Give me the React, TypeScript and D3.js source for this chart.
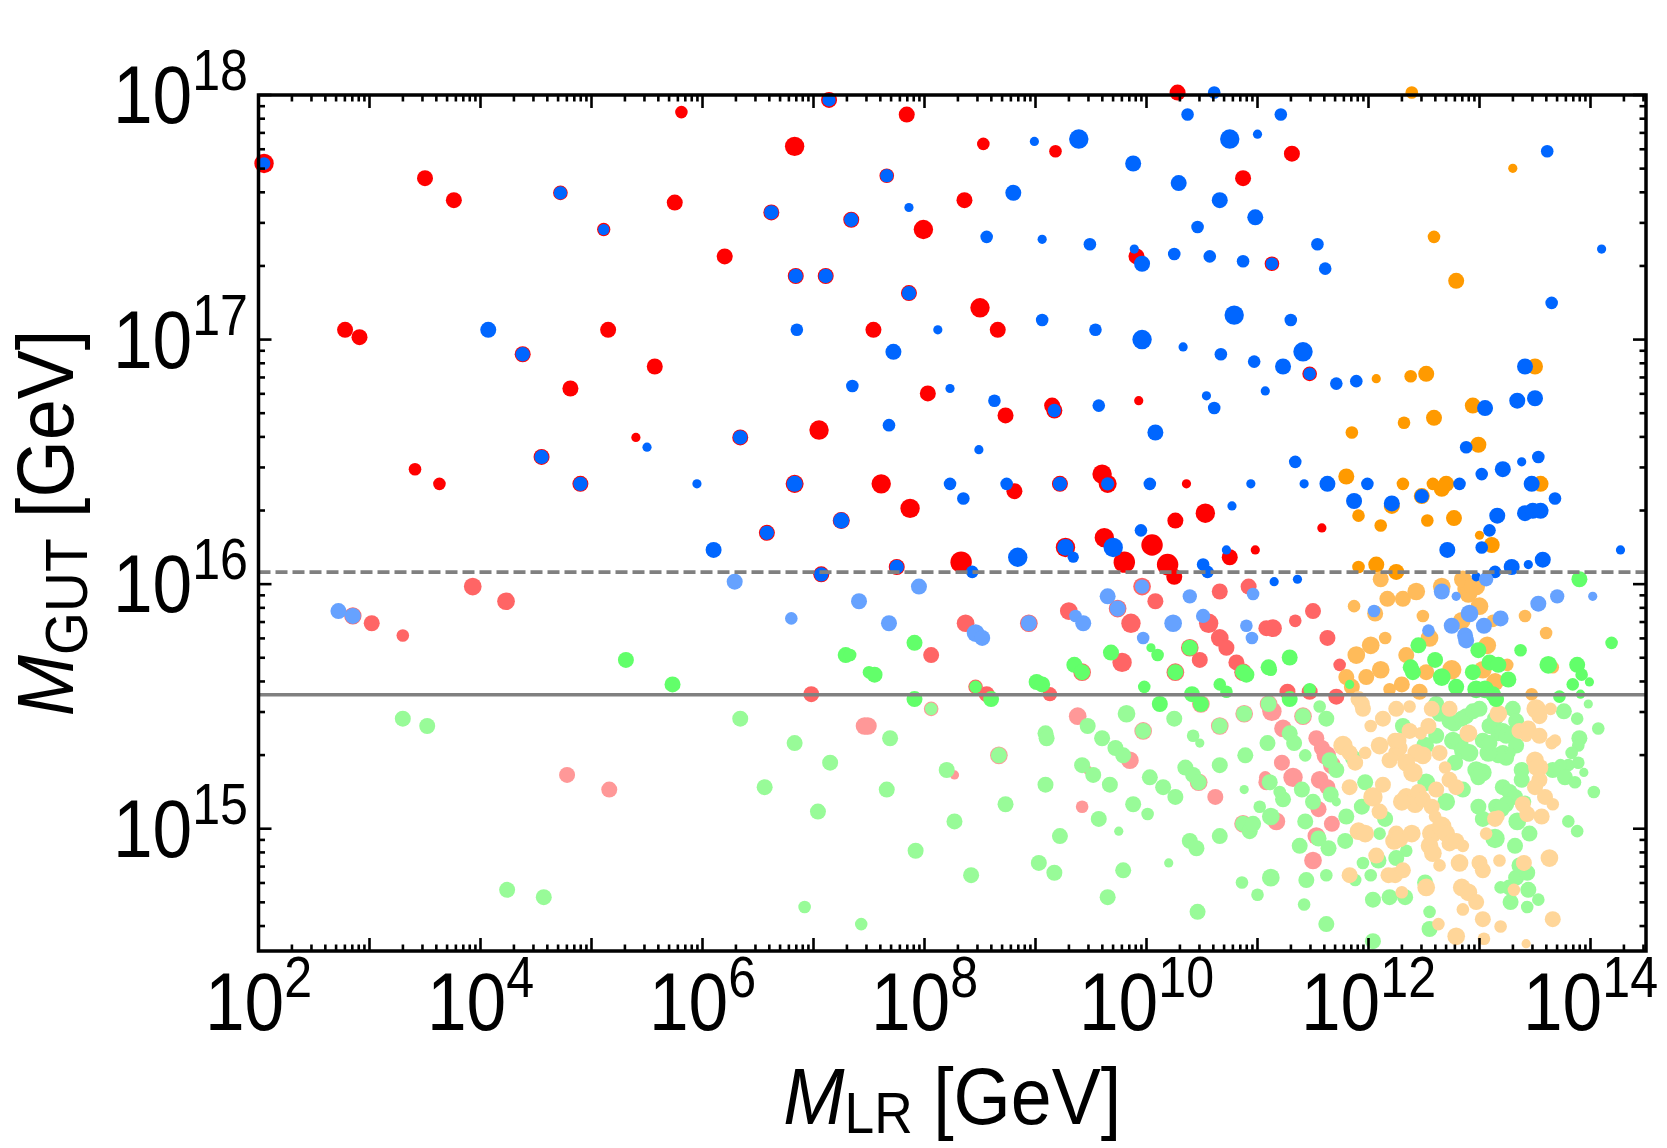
import React from "react";
import * as d3 from "d3";

// every point: [log10(M_LR / GeV), log10(M_GUT / GeV), weight]
// the weight is the third quantity of a model point and sets the marker size

const redStrong = [
  [2.05, 17.72, 4], [3.5, 17.66, 3], [3.76, 17.57, 3], [5.81, 17.93, 2], [6.83, 17.79, 4],
  [7.14, 17.98, 3], [7.84, 17.92, 3], [8.53, 17.8, 2], [9.18, 17.77, 2], [10.28, 18.01, 3],
  [10.87, 17.66, 3], [11.31, 17.76, 3], [5.75, 17.56, 3], [4.72, 17.6, 2.6], [5.11, 17.45, 2.2],
  [6.62, 17.52, 3], [7.34, 17.49, 3], [7.66, 17.67, 2.6], [7.99, 17.45, 4], [6.2, 17.34, 3],
  [8.36, 17.57, 3], [2.78, 17.04, 3], [2.91, 17.01, 3], [4.38, 16.94, 3], [5.15, 17.04, 3],
  [4.81, 16.8, 3], [5.57, 16.89, 3], [6.84, 17.26, 3], [7.11, 17.26, 3], [7.54, 17.04, 3],
  [7.86, 17.19, 3], [8.5, 17.13, 4], [8.66, 17.04, 3], [8.03, 16.78, 3], [4.55, 16.52, 3],
  [3.41, 16.47, 2], [3.63, 16.41, 2], [4.9, 16.41, 3], [5.4, 16.6, 1], [6.34, 16.6, 3],
  [7.05, 16.63, 4], [6.83, 16.41, 3.6], [7.61, 16.41, 4], [7.87, 16.31, 4], [6.58, 16.21, 3],
  [7.25, 16.26, 3.3], [7.07, 16.04, 3], [7.75, 16.07, 3], [8.33, 16.09, 4.6], [8.73, 16.69, 3],
  [8.81, 16.38, 3], [9.15, 16.73, 3], [9.17, 16.71, 3], [9.22, 16.41, 3], [9.27, 16.15, 4],
  [9.6, 16.45, 4], [9.65, 16.41, 3.6], [9.62, 16.19, 4], [9.8, 16.09, 4.6], [10.05, 16.16, 4.6],
  [10.19, 16.08, 4.6], [10.25, 16.03, 3], [9.93, 16.75, 1], [10.36, 16.41, 1], [10.26, 16.26, 3],
  [10.53, 16.29, 4], [10.75, 16.11, 3], [10.98, 16.14, 1], [11.58, 16.23, 1], [11.47, 16.86, 2.6],
  [11.13, 17.31, 2.6], [9.91, 17.34, 3],
];

const redMid = [
  [2.85, 15.87, 3.4], [3.02, 15.84, 3], [3.3, 15.79, 2], [3.93, 15.99, 3.5], [4.23, 15.93, 3.5],
  [6.98, 15.55, 3], [8.37, 15.84, 3.5], [8.94, 15.84, 3.5], [9.3, 15.89, 3.5], [9.74, 15.9, 3.5],
  [9.96, 15.99, 3.5], [10.08, 15.93, 3], [9.86, 15.84, 4], [10.66, 15.97, 3], [10.92, 15.99, 3],
  [10.56, 15.84, 4], [10.66, 15.78, 3.5], [10.72, 15.74, 3], [10.48, 15.69, 3], [10.39, 15.74, 3.5],
  [10.81, 15.68, 3], [11.08, 15.82, 3], [9.78, 15.68, 4], [9.42, 15.64, 3.5], [8.06, 15.71, 3],
  [9.13, 15.55, 2.5], [8.46, 15.58, 2.6], [8.56, 15.55, 3], [10.26, 15.64, 3.5], [10.87, 15.64, 3.5],
  [11.5, 15.89, 3], [11.34, 15.85, 2], [11.14, 15.82, 3.5], [11.63, 15.78, 3], [11.74, 15.67, 2],
  [11.27, 15.56, 3], [11.47, 15.56, 3], [11.71, 15.54, 3],
];

const redPale = [
  [4.78, 15.22, 3], [5.16, 15.16, 3], [7.46, 15.42, 3.5], [8.06, 15.49, 2.6], [7.49, 15.42, 3.5],
  [9.38, 15.46, 3.5], [9.85, 15.28, 3.5], [9.97, 15.4, 3.5], [10.66, 15.42, 3.5], [10.88, 15.47, 3.5],
  [10.47, 15.19, 3.5], [10.62, 15.13, 3], [9.42, 15.09, 2], [9.47, 15.24, 1], [8.67, 15.3, 3.5],
  [8.27, 15.22, 1], [10.87, 15.02, 3.5], [10.49, 15.51, 3.5], [11.08, 15.19, 3],
  [11.1, 15.51, 3.5], [11.13, 15.48, 4], [11.41, 15.46, 3.5], [11.23, 15.41, 3.5], [11.53, 15.37, 3],
  [11.58, 15.33, 3], [11.62, 15.3, 4], [11.67, 15.26, 3.5], [11.22, 15.27, 3], [11.32, 15.21, 4],
  [11.07, 15.21, 2], [11.56, 15.2, 3.5], [11.63, 15.17, 3], [11.55, 15.08, 3], [11.17, 15.03, 3.5],
  [11.67, 15.02, 3], [11.53, 14.97, 3.5], [11.5, 14.87, 3.5],
];

const orangeStrong = [
  [12.39, 18.01, 2], [12.59, 17.42, 2], [12.79, 17.24, 3], [13.3, 17.7, 1], [13.5, 16.89, 3],
  [12.07, 16.84, 1], [12.38, 16.85, 2], [12.52, 16.86, 3], [11.85, 16.62, 2], [12.32, 16.66, 2],
  [12.59, 16.68, 3], [12.94, 16.73, 3], [12.99, 16.57, 3], [11.8, 16.44, 3], [12.31, 16.41, 2],
  [12.58, 16.41, 2], [12.7, 16.41, 3], [12.66, 16.39, 3], [13.55, 16.41, 3], [11.91, 16.28, 2],
  [12.11, 16.24, 2], [12.21, 16.32, 3], [12.48, 16.36, 3], [12.53, 16.26, 2], [12.77, 16.27, 3],
  [13.0, 16.2, 1], [13.11, 16.16, 3], [11.91, 16.07, 2], [12.07, 16.08, 3], [12.25, 16.05, 3],
];

const orangeMid = [
  [11.87, 15.91, 2], [12.06, 15.88, 3], [12.11, 16.02, 3], [12.17, 15.94, 3], [12.31, 15.94, 3],
  [12.43, 15.97, 3.5], [12.49, 15.87, 2], [12.15, 15.78, 2], [12.55, 15.78, 3.5], [11.89, 15.71, 3.5],
  [12.02, 15.75, 3.5], [12.11, 15.65, 3.5], [11.98, 15.62, 3], [11.8, 15.62, 3], [12.34, 15.71, 3],
  [12.52, 15.64, 3], [12.75, 15.65, 4], [12.19, 15.57, 2], [12.3, 15.59, 3], [12.46, 15.56, 3],
  [11.85, 15.58, 3], [12.84, 15.85, 3.5], [12.88, 15.98, 3.5], [12.97, 15.99, 3.5], [12.9, 15.96, 3.5],
  [13.0, 15.91, 3.5], [13.07, 15.75, 3.5], [13.12, 15.85, 2], [13.03, 15.65, 3.5], [13.25, 15.67, 2],
  [13.14, 15.6, 3.5], [13.41, 15.87, 2], [13.6, 15.8, 2], [13.66, 15.66, 2], [12.66, 15.99, 3.5],
  [13.47, 15.55, 2], [12.85, 16.02, 3.5], [12.94, 15.99, 3.5],
];

const orangePale = [
  [11.77, 15.34, 4], [11.83, 15.31, 3], [11.88, 15.27, 3], [11.83, 15.17, 3], [12.04, 15.13, 4],
  [12.13, 15.18, 3], [11.97, 15.31, 2], [12.1, 15.34, 3.5], [12.19, 15.28, 3], [12.25, 15.31, 3],
  [12.28, 15.33, 3], [12.24, 15.36, 3], [12.13, 15.45, 3], [12.25, 15.49, 3], [12.37, 15.4, 3],
  [12.37, 15.5, 2], [12.02, 15.42, 2], [11.94, 15.51, 3], [11.91, 15.53, 3], [11.95, 15.49, 3],
  [12.47, 15.39, 2], [12.54, 15.42, 3], [12.57, 15.49, 3], [12.73, 15.49, 3], [12.64, 15.31, 3],
  [12.9, 15.39, 3.5], [12.69, 15.25, 2], [12.73, 15.2, 3], [12.79, 15.17, 3], [13.17, 15.47, 3.5],
  [13.36, 15.4, 3], [13.42, 15.38, 2], [13.44, 15.41, 3], [13.51, 15.49, 4], [13.54, 15.46, 3],
  [13.64, 15.49, 2], [13.54, 15.38, 3], [13.65, 15.35, 2], [13.68, 15.36, 2], [13.5, 15.28, 3.5],
  [13.54, 15.25, 3.5], [13.51, 15.25, 3], [13.54, 15.2, 3], [13.5, 15.17, 3], [13.59, 15.13, 3],
  [13.66, 15.1, 2], [13.56, 15.05, 3], [13.39, 15.1, 3], [13.43, 15.06, 3], [13.14, 15.04, 3],
  [13.17, 15.05, 2], [13.06, 14.98, 2], [12.27, 15.36, 3], [12.43, 15.31, 3.5], [12.49, 15.3, 3.5],
  [12.34, 15.27, 3.5], [12.4, 15.23, 4], [12.34, 15.13, 3.5], [12.42, 15.1, 3.5], [12.45, 15.15, 3],
  [12.49, 15.12, 3], [12.61, 15.16, 3], [12.57, 15.09, 3], [12.6, 15.05, 2], [12.3, 15.11, 3.5],
  [12.1, 15.07, 3], [11.91, 14.99, 3.5], [11.97, 14.98, 3.5], [12.25, 14.98, 3], [12.23, 14.95, 3.5],
  [12.28, 14.96, 3.5], [12.57, 14.98, 4], [12.66, 15.01, 4], [12.7, 14.98, 3.5], [12.73, 14.94, 3],
  [12.79, 14.95, 3], [12.85, 14.93, 2], [12.55, 14.93, 3.5], [12.58, 14.9, 3.5], [12.39, 14.98, 3.5],
  [12.07, 14.89, 3], [12.24, 14.81, 3], [12.31, 14.83, 3], [12.18, 14.81, 3], [11.83, 14.81, 3],
  [12.3, 14.74, 2], [12.52, 14.76, 3.5], [12.64, 14.85, 2], [12.82, 14.86, 3.5], [12.84, 14.76, 3.5],
  [12.9, 14.74, 3.5], [12.97, 14.7, 3], [12.85, 14.67, 2], [13.0, 14.86, 3], [13.03, 14.83, 3],
  [13.18, 14.87, 2], [13.03, 14.63, 3], [13.19, 14.6, 2], [12.79, 14.56, 3.5], [13.04, 14.55, 2],
  [12.63, 14.61, 2], [13.31, 14.75, 2], [13.4, 14.86, 3], [13.63, 14.88, 3.5], [13.66, 14.63, 3],
  [13.42, 14.53, 1],
];

const blueStrong = [
  [2.05, 17.72, 2], [7.14, 17.98, 2.2], [4.72, 17.6, 2.2], [5.11, 17.45, 1.6], [6.62, 17.52, 2.5],
  [7.34, 17.49, 2.5], [7.66, 17.67, 2.2], [4.38, 16.94, 2.5], [6.84, 17.26, 2.5], [7.11, 17.26, 2.5],
  [7.86, 17.19, 2.5], [4.55, 16.52, 2.5], [4.9, 16.41, 2.5], [6.34, 16.6, 2.5], [6.83, 16.41, 3],
  [6.58, 16.21, 2.5], [7.25, 16.26, 3], [7.07, 16.04, 2.5], [7.75, 16.07, 2.5], [9.17, 16.71, 2.2],
  [9.22, 16.41, 2.5], [9.27, 16.15, 3.2], [9.34, 16.11, 1.6], [9.65, 16.41, 2.2], [11.47, 16.86, 2],
  [11.13, 17.31, 2],
  [4.07, 17.04, 3], [5.5, 16.56, 1], [5.95, 16.41, 1], [6.1, 16.14, 3], [6.85, 17.04, 2],
  [7.35, 16.81, 2], [7.72, 16.95, 3], [7.68, 16.65, 2], [7.86, 17.54, 1], [8.12, 17.04, 1],
  [8.23, 16.8, 1], [8.56, 17.42, 2], [8.8, 17.6, 3], [8.99, 17.81, 1], [9.06, 17.41, 1],
  [9.39, 17.82, 4], [9.49, 17.39, 2], [9.06, 17.08, 2], [9.54, 17.04, 2], [9.96, 17.0, 4],
  [10.33, 16.97, 1], [10.67, 16.94, 2], [10.79, 17.1, 4], [11.3, 17.08, 2], [10.97, 16.91, 2],
  [11.23, 16.89, 3], [11.41, 16.95, 4], [11.71, 16.82, 2], [11.89, 16.83, 2], [8.63, 16.75, 2],
  [9.57, 16.73, 2], [10.08, 16.62, 3], [10.54, 16.77, 1], [10.61, 16.72, 2], [11.07, 16.79, 1],
  [8.49, 16.55, 1], [11.34, 16.5, 2], [8.23, 16.41, 2], [8.35, 16.35, 2], [8.74, 16.41, 2],
  [10.03, 16.41, 2], [10.94, 16.41, 1], [11.42, 16.41, 1], [11.63, 16.41, 3], [11.99, 16.41, 2],
  [12.82, 16.41, 2], [13.47, 16.41, 3], [13.68, 16.35, 2], [10.77, 16.32, 1], [9.95, 16.22, 2],
  [9.7, 16.15, 4], [8.84, 16.11, 4], [8.43, 16.05, 2], [10.51, 16.08, 2], [10.55, 16.05, 2],
  [10.72, 16.14, 1], [11.87, 16.34, 3], [12.21, 16.33, 3], [12.48, 16.36, 2.5], [13.02, 16.45, 2],
  [13.21, 16.47, 3], [13.38, 16.5, 1], [13.53, 16.52, 2], [12.88, 16.56, 2], [13.05, 16.72, 3],
  [13.34, 16.75, 3], [13.5, 16.76, 3], [13.41, 16.89, 3], [13.65, 17.15, 2], [13.61, 17.77, 2],
  [14.1, 17.37, 1], [14.27, 16.14, 1], [12.71, 16.14, 3], [13.02, 16.15, 2], [13.09, 16.22, 2],
  [13.16, 16.28, 3], [13.41, 16.29, 3], [13.48, 16.3, 3], [13.55, 16.3, 3], [12.97, 16.03, 1],
  [13.14, 16.05, 2], [13.29, 16.07, 3], [13.44, 16.08, 1], [13.57, 16.1, 3], [11.36, 16.02, 1],
  [11.15, 16.01, 1], [10.61, 18.01, 2], [10.37, 17.92, 2], [11.21, 17.92, 2], [10.75, 17.82, 4],
  [11.0, 17.84, 1], [9.88, 17.72, 3], [10.29, 17.64, 3], [10.66, 17.57, 3], [10.98, 17.5, 3],
  [10.46, 17.46, 2], [11.54, 17.39, 2], [9.89, 17.37, 1], [9.96, 17.31, 3], [10.25, 17.35, 2],
  [10.57, 17.34, 2], [10.87, 17.32, 2], [11.61, 17.29, 2],
];

const blueMid = [
  [2.72, 15.89, 3], [2.85, 15.87, 3], [6.29, 16.01, 3], [6.8, 15.86, 2], [7.41, 15.93, 3],
  [7.95, 15.99, 3], [7.68, 15.84, 3], [8.46, 15.8, 3.5], [8.52, 15.78, 3], [8.94, 15.84, 3],
  [9.36, 15.87, 2], [9.43, 15.84, 3], [9.65, 15.95, 3], [9.74, 15.9, 3], [9.96, 15.99, 2.5],
  [9.97, 15.78, 2], [10.39, 15.95, 2.5], [10.96, 15.96, 2], [10.24, 15.84, 3.5], [10.51, 15.87, 2.5],
  [10.9, 15.83, 2], [10.95, 15.78, 2], [12.05, 15.89, 2], [12.66, 15.97, 3], [12.54, 15.81, 2],
  [12.79, 15.95, 1], [12.75, 15.83, 3], [12.87, 15.79, 3], [12.88, 15.77, 3], [12.91, 15.88, 3.5],
  [13.04, 15.83, 3], [13.06, 16.02, 2.5], [13.19, 15.86, 3], [13.53, 15.92, 3], [13.7, 15.95, 2.5],
  [14.02, 15.95, 1],
];

const greenMid = [
  [5.31, 15.69, 3], [5.73, 15.59, 3], [7.29, 15.71, 3], [7.5, 15.64, 2], [10.39, 15.74, 3],
  [9.68, 15.72, 3], [10.1, 15.71, 2], [10.04, 15.74, 1], [9.35, 15.67, 3], [9.42, 15.64, 3],
  [7.91, 15.76, 3], [7.55, 15.63, 3], [7.33, 15.71, 2], [9.01, 15.6, 3], [9.06, 15.59, 3],
  [8.46, 15.58, 2], [8.6, 15.53, 3], [10.26, 15.64, 3], [9.98, 15.58, 2], [10.87, 15.64, 3],
  [10.9, 15.63, 3], [10.66, 15.59, 2], [10.72, 15.56, 2], [10.41, 15.55, 3], [10.12, 15.51, 3],
  [10.49, 15.51, 3], [7.91, 15.53, 3], [11.1, 15.66, 3], [11.12, 15.65, 2], [11.29, 15.7, 3],
  [11.29, 15.53, 3], [11.47, 15.57, 2], [11.83, 15.59, 1], [12.45, 15.75, 3], [12.38, 15.66, 3],
  [12.4, 15.64, 3], [12.6, 15.69, 3], [12.66, 15.62, 3.5], [12.79, 15.58, 3], [12.99, 15.73, 3],
  [12.94, 15.64, 3], [13.09, 15.68, 3], [13.17, 15.67, 3], [13.26, 15.61, 3], [12.97, 15.57, 3.5],
  [13.05, 15.57, 3.5], [13.12, 15.55, 3], [13.15, 15.53, 3], [13.37, 15.73, 2], [13.62, 15.67, 3.5],
  [13.9, 16.02, 3], [14.19, 15.76, 2], [13.88, 15.67, 3], [13.92, 15.63, 2], [13.84, 15.59, 2],
  [13.99, 15.6, 1], [13.72, 15.54, 2], [13.91, 15.55, 1],
];

const greenPale = [
  [3.3, 15.45, 3], [3.52, 15.42, 3], [4.24, 14.75, 3], [4.57, 14.72, 3], [6.34, 15.45, 3],
  [6.83, 15.35, 3], [7.15, 15.27, 3], [6.56, 15.17, 3], [7.04, 15.07, 3], [6.92, 14.68, 2],
  [7.43, 14.61, 2], [8.06, 15.49, 2], [7.69, 15.37, 3], [9.47, 15.42, 3], [9.6, 15.37, 3],
  [9.72, 15.33, 3], [9.79, 15.3, 3], [9.82, 15.47, 3.5], [9.97, 15.4, 3], [10.25, 15.45, 3],
  [10.42, 15.38, 2], [10.48, 15.35, 1], [10.66, 15.42, 3], [10.88, 15.47, 3], [10.89, 15.3, 3],
  [10.66, 15.26, 3], [10.35, 15.25, 3], [10.42, 15.22, 3], [10.47, 15.19, 3], [10.03, 15.21, 3],
  [10.15, 15.17, 3], [10.26, 15.13, 3], [10.88, 15.16, 1], [11.02, 15.09, 2], [9.67, 15.18, 3],
  [9.88, 15.1, 3], [10.01, 15.06, 2], [9.57, 15.04, 3], [9.52, 15.22, 3], [9.42, 15.26, 3],
  [9.09, 15.39, 3], [9.1, 15.37, 3], [9.09, 15.18, 3], [8.67, 15.3, 3], [8.2, 15.24, 3],
  [7.66, 15.16, 3], [8.73, 15.1, 3], [8.27, 15.03, 3], [9.22, 14.97, 3], [10.66, 14.97, 3],
  [10.87, 15.02, 3], [10.93, 14.99, 3], [10.39, 14.95, 3], [10.45, 14.92, 3], [7.92, 14.91, 3],
  [8.42, 14.81, 3], [9.03, 14.86, 3], [9.17, 14.82, 3], [9.79, 14.83, 3], [10.2, 14.86, 1],
  [9.65, 14.72, 3], [10.46, 14.66, 3], [10.86, 14.78, 2], [11.0, 14.73, 2], [9.75, 14.99, 1],
  [11.1, 15.51, 3], [11.41, 15.46, 3], [11.56, 15.5, 2], [11.62, 15.45, 3], [11.29, 15.39, 3],
  [11.33, 15.35, 3], [11.09, 15.35, 3], [11.71, 15.24, 3], [11.65, 15.28, 3], [11.43, 15.3, 2],
  [11.11, 15.19, 3], [11.4, 15.16, 3], [11.23, 15.12, 3], [11.2, 15.15, 2], [11.5, 15.11, 3],
  [11.66, 15.14, 3], [11.71, 15.11, 1], [11.12, 15.05, 3.5], [10.96, 15.02, 3], [11.43, 15.03, 3],
  [11.55, 14.96, 3], [11.38, 14.93, 3], [11.64, 14.92, 3], [11.12, 14.8, 3.5], [11.44, 14.79, 3],
  [11.62, 14.81, 2], [11.42, 14.69, 2], [11.62, 14.61, 3], [11.79, 14.95, 3], [11.8, 15.05, 3],
  [11.94, 15.09, 3], [11.86, 15.29, 3], [11.97, 15.19, 3], [12.31, 15.42, 3], [12.61, 15.51, 3],
  [12.64, 15.47, 3], [12.73, 15.44, 3], [12.77, 15.43, 3], [12.84, 15.45, 3], [12.88, 15.46, 3],
  [12.94, 15.48, 3], [13.0, 15.49, 3], [12.51, 15.34, 3.5], [12.61, 15.38, 3], [12.76, 15.36, 3.5],
  [12.82, 15.35, 3.5], [12.85, 15.32, 3.5], [12.91, 15.31, 3.5], [12.78, 15.27, 3], [12.85, 15.16, 3],
  [12.97, 15.24, 3.5], [13.03, 15.23, 3.5], [12.99, 15.21, 3], [13.03, 15.36, 3], [13.09, 15.42, 3],
  [13.14, 15.45, 3], [13.17, 15.39, 3], [13.21, 15.4, 3], [13.24, 15.38, 3], [13.3, 15.39, 3],
  [13.33, 15.34, 3], [13.27, 15.31, 2], [13.21, 15.31, 3], [13.24, 15.29, 3], [13.17, 15.3, 3],
  [13.08, 15.31, 3.5], [13.09, 15.35, 3], [13.3, 15.49, 3], [13.33, 15.44, 3], [13.38, 15.24, 3],
  [13.38, 15.2, 3], [13.21, 15.17, 3], [13.27, 15.15, 3], [13.32, 15.13, 3], [13.24, 15.1, 3],
  [13.15, 15.09, 3], [13.2, 15.08, 3], [13.41, 15.11, 2], [12.99, 15.09, 3], [13.03, 15.04, 3],
  [13.34, 15.03, 3.5], [13.45, 14.98, 3], [13.14, 14.96, 4], [13.32, 14.93, 3], [13.8, 15.03, 2],
  [13.88, 14.99, 2], [14.07, 15.41, 2], [13.9, 15.37, 3], [13.89, 15.34, 2], [13.83, 15.31, 2],
  [13.89, 15.27, 2], [13.94, 15.23, 1], [13.8, 15.26, 2], [13.73, 15.26, 2], [13.66, 15.24, 3],
  [13.77, 15.21, 3], [13.86, 15.19, 2], [14.03, 15.15, 2], [13.76, 15.48, 3], [13.88, 15.45, 2],
  [13.98, 15.51, 1], [12.52, 15.19, 3.5], [12.7, 15.11, 3.5], [12.15, 15.04, 3], [12.1, 14.98, 2],
  [12.34, 14.91, 2], [12.25, 14.88, 3], [12.09, 14.87, 3], [11.88, 14.79, 2], [11.95, 14.86, 2],
  [12.02, 14.81, 2], [12.04, 14.71, 3], [12.19, 14.72, 3], [12.33, 14.72, 3], [12.51, 14.78, 3],
  [12.55, 14.66, 2], [12.55, 14.59, 3], [12.04, 14.54, 3], [13.27, 14.76, 3], [13.19, 14.76, 2],
  [13.44, 14.75, 3], [13.33, 14.8, 3], [13.43, 14.82, 3], [13.36, 14.85, 3], [13.28, 14.7, 3],
  [13.43, 14.68, 2], [13.53, 14.71, 2],
];

const xLabelExps = [2, 4, 6, 8, 10, 12, 14];
const yLabelExps = [15, 16, 17, 18];
// reference scales drawn as horizontal lines (GeV)
const dashedLevel = 1.12e16;
const solidLevel = 3.53e15;

const layers = [
  { data: redStrong, color: "#ff0000" },
  { data: redMid, color: "#ff6565" },
  { data: redPale, color: "#ff9898" },
  { data: greenPale, color: "#98fb98" },
  { data: orangeStrong, color: "#ff9a00" },
  { data: orangeMid, color: "#ffbb5a" },
  { data: orangePale, color: "#ffd699" },
  { data: blueStrong, color: "#0066ff" },
  { data: blueMid, color: "#66a2ff" },
  { data: greenMid, color: "#62ff6a" },
];

const W = 1667;
const H = 1148;
const left = 258.5;
const right = 1646;
const top = 95;
const bottom = 951;

const x = d3.scaleLog().domain([1e2, 10 ** 14.5]).range([left, right]);
const y = d3.scaleLog().domain([10 ** 14.5, 1e18]).range([bottom, top]);
const r = d3.scaleLinear().domain([1, 5]).range([4.6, 11.4]);

const font = "'Liberation Sans', Arial, sans-serif";

function decadeTicks(lo: number, hi: number) {
  const major: number[] = [];
  const minor: number[] = [];
  for (let e = Math.floor(lo); e <= Math.ceil(hi); e++) {
    for (let k = 1; k < 10; k++) {
      const v = k * 10 ** e;
      const lv = Math.log10(v);
      if (lv < lo - 1e-9 || lv > hi + 1e-9) continue;
      if (k === 1) major.push(v);
      else minor.push(v);
    }
  }
  return { major, minor };
}

function Pow({ px, py, exp, anchor }: { px: number; py: number; exp: number; anchor: string }) {
  return (
    <g transform={`translate(${px},${py}) scale(0.88,1)`}>
      <text textAnchor={anchor} fontSize={81} fontFamily={font} fill="#000">
        10
        <tspan fontSize={57} dy={-33}>
          {exp}
        </tspan>
      </text>
    </g>
  );
}

export default function App() {
  const xt = decadeTicks(2, 14.5);
  const yt = decadeTicks(14.5, 18);
  const majLen = 13;
  const minLen = 6.5;

  return (
    <div>
      <style>{"body{margin:0}"}</style>
      <svg width={W} height={H} style={{ display: "block", background: "#fff" }}>
        {layers.map((layer, li) => (
          <g key={li} fill={layer.color}>
            {layer.data.map((d, i) => (
              <circle key={i} cx={x(10 ** d[0])} cy={y(10 ** d[1])} r={r(d[2])} />
            ))}
          </g>
        ))}

        <line x1={left} x2={right} y1={y(dashedLevel)} y2={y(dashedLevel)}
          stroke="#808080" strokeWidth={3.6} strokeDasharray="12,5" />
        <line x1={left} x2={right} y1={y(solidLevel)} y2={y(solidLevel)}
          stroke="#808080" strokeWidth={3.6} />

        <g stroke="#000" strokeWidth={2.6}>
          {xt.major.map((v, i) => (
            <g key={"xM" + i}>
              <line x1={x(v)} x2={x(v)} y1={bottom} y2={bottom - majLen} />
              <line x1={x(v)} x2={x(v)} y1={top} y2={top + majLen} />
            </g>
          ))}
          {xt.minor.map((v, i) => (
            <g key={"xm" + i}>
              <line x1={x(v)} x2={x(v)} y1={bottom} y2={bottom - minLen} />
              <line x1={x(v)} x2={x(v)} y1={top} y2={top + minLen} />
            </g>
          ))}
          {yt.major.map((v, i) => (
            <g key={"yM" + i}>
              <line y1={y(v)} y2={y(v)} x1={left} x2={left + majLen} />
              <line y1={y(v)} y2={y(v)} x1={right} x2={right - majLen} />
            </g>
          ))}
          {yt.minor.map((v, i) => (
            <g key={"ym" + i}>
              <line y1={y(v)} y2={y(v)} x1={left} x2={left + minLen} />
              <line y1={y(v)} y2={y(v)} x1={right} x2={right - minLen} />
            </g>
          ))}
        </g>
        <rect x={left} y={top} width={right - left} height={bottom - top}
          fill="none" stroke="#000" strokeWidth={3.5} />

        {xLabelExps.map((e) => (
          <Pow key={"xl" + e} px={x(10 ** e)} py={1030} exp={e} anchor="middle" />
        ))}
        {yLabelExps.map((e) => (
          <Pow key={"yl" + e} px={248} py={y(10 ** e) + 28} exp={e} anchor="end" />
        ))}

        <g transform={`translate(${(left + right) / 2},1124) scale(0.92,1)`}>
          <text textAnchor="middle" fontSize={80} fontFamily={font}>
            <tspan fontStyle="italic">M</tspan>
            <tspan fontSize={58} dy={9}>LR</tspan>
            <tspan dy={-9}>{" [GeV]"}</tspan>
          </text>
        </g>
        <g transform={`translate(73,${(top + bottom) / 2}) rotate(-90) scale(0.92,1)`}>
          <text textAnchor="middle" fontSize={80} fontFamily={font}>
            <tspan fontStyle="italic">M</tspan>
            <tspan fontSize={60} dy={14}>GUT</tspan>
            <tspan dy={-14}>{" [GeV]"}</tspan>
          </text>
        </g>
      </svg>
    </div>
  );
}
